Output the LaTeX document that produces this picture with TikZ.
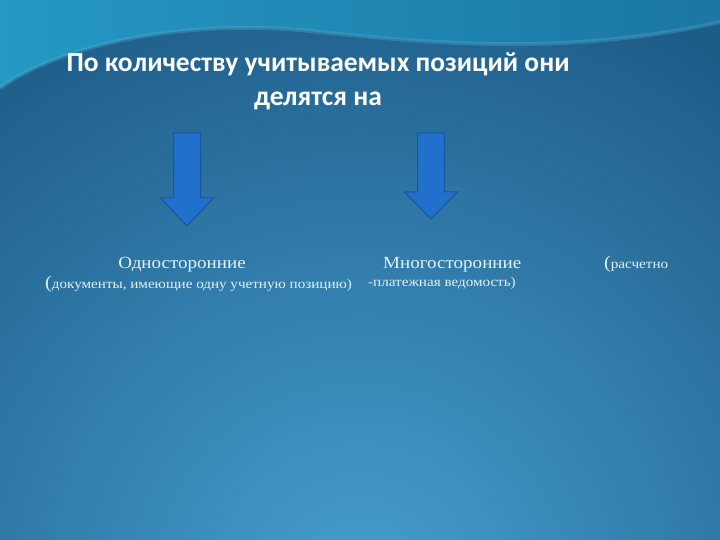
\documentclass[tikz,border=0pt]{standalone}
\usepackage{fontspec}
\setmainfont{Liberation Serif}
\newfontfamily\titlefont{Carlito}
\newfontfamily\capfont[FakeStretch=1.12]{Liberation Serif}
\usetikzlibrary{positioning}
\definecolor{bgDark}{HTML}{1E5C88}
\definecolor{bgLight}{HTML}{469FD0}
\definecolor{bgTeal}{HTML}{1B76A3}
\definecolor{bgCyan}{HTML}{2598C4}
\definecolor{arrowBlue}{HTML}{2170CC}
\definecolor{arrowEdge}{HTML}{1A55A0}
\definecolor{capText}{HTML}{E2F1FA}
\tikzset{
  titleT/.style={text=white, font=\titlefont\bfseries\fontsize{27.5}{34}\selectfont,
                 align=center, inner sep=0pt},
  kindT/.style={text=capText, font=\capfont\fontsize{17}{18}\selectfont, inner sep=0pt},
  noteT/.style={text=capText, font=\capfont\fontsize{13.5}{15}\selectfont, inner sep=0pt},
  downArrow/.style={fill=arrowBlue, draw=arrowEdge, line width=1pt, line join=miter},
}
% down arrow: centre x, top y, head start y, tip y
\newcommand{\downArr}[4]{%
  \filldraw[downArrow] (#1-13.5,#2) -- (#1+13.5,#2) -- (#1+13.5,#3) -- (#1+26.5,#3)
    -- (#1,#4) -- (#1-26.5,#3) -- (#1-13.5,#3) -- cycle;}
\begin{document}
\begin{tikzpicture}[x=1pt, y=-1pt]
  \useasboundingbox (0,0) rectangle (720,540);
  % background
  \begin{scope}
    \clip (0,0) rectangle (720,540);
    \fill[bgDark] (0,0) rectangle (720,540);
    \shade[inner color=bgLight, outer color=bgDark] (360,590) circle (640);
    \shade[left color=bgCyan, right color=bgTeal]
      (0,0) -- (720,0) -- (720,22) .. controls (560,58) and (420,42) .. (300,30)
      .. controls (180,20) and (60,45) .. (0,88) -- cycle;
    \draw[bgCyan!80!white, line width=4pt, opacity=0.35]
      (720,22) .. controls (560,58) and (420,42) .. (300,30)
      .. controls (180,20) and (60,45) .. (0,88);
  \end{scope}
  % title
  \node[titleT, anchor=base] (title) at (318,106)
    {По количеству учитываемых позиций они\\делятся на};
  % arrows
  \downArr{187}{133}{198}{226}
  \downArr{431}{133}{192}{219}
  % kinds
  \node[kindT, anchor=base] (one) at (182,268) {Односторонние};
  \node[noteT, anchor=base west] (oneNote) at (45,288)
    {{\fontsize{18}{18}\selectfont(}документы, имеющие одну учетную позицию)};
  \node[kindT, anchor=base west] (many) at (383,268) {Многосторонние};
  \node[noteT, anchor=base west] (manyNote) at (368,286) {-платежная ведомость)};
  \node[noteT, anchor=base west] (calc) at (604,268)
    {{\fontsize{18}{18}\selectfont(}расчетно};
\end{tikzpicture}
\end{document}
